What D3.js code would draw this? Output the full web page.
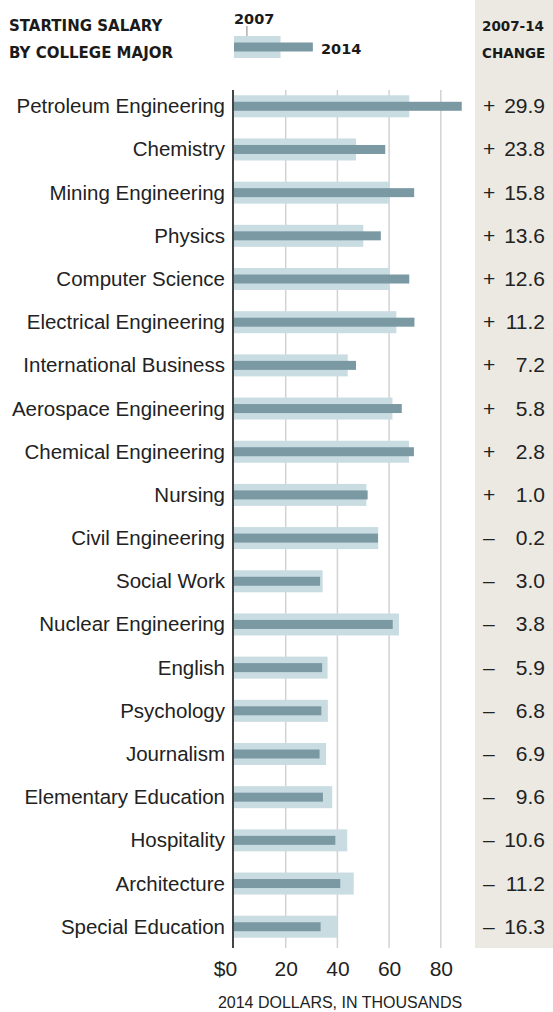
<!DOCTYPE html>
<html>
<head>
<meta charset="utf-8">
<script src="https://cdn.jsdelivr.net/npm/d3@7"></script>
<style>
  body { margin: 0; background: #fff; }
  svg { display: block; }
  .label { font-family: "Liberation Sans", Arial, sans-serif; fill: #222; }
  .head { font-family: "DejaVu Sans", sans-serif; font-weight: bold; fill: #1a1a1a; }
</style>
</head>
<body>
<script>
const majors = ["Petroleum Engineering", "Chemistry", "Mining Engineering", "Physics",
  "Computer Science", "Electrical Engineering", "International Business",
  "Aerospace Engineering", "Chemical Engineering", "Nursing", "Civil Engineering",
  "Social Work", "Nuclear Engineering", "English", "Psychology", "Journalism",
  "Elementary Education", "Hospitality", "Architecture", "Special Education"];

// thousands of 2014 dollars
const salary2007 = [67.8, 47.2, 60.2, 50.0, 60.2, 62.8, 44.0, 61.3, 67.7, 51.2,
  55.8, 34.3, 63.8, 36.2, 36.3, 35.6, 38.0, 43.8, 46.3, 40.0];
const salary2014 = [88.1, 58.5, 69.7, 56.8, 67.8, 69.8, 47.2, 64.9, 69.6, 51.7,
  55.7, 33.3, 61.4, 34.1, 33.8, 33.1, 34.4, 39.2, 41.1, 33.5];
const change = [29.9, 23.8, 15.8, 13.6, 12.6, 11.2, 7.2, 5.8, 2.8, 1.0,
  -0.2, -3.0, -3.8, -5.9, -6.8, -6.9, -9.6, -10.6, -11.2, -16.3];

const xTicks = [0, 20, 40, 60, 80];
const tickLabels = ["$0", "20", "40", "60", "80"];
const legendValues = { y2007: 18, y2014: 30.5, pointer: 5 };

const width = 553, height = 1012;

const svg = d3.select("body")
  .append("svg")
  .attr("width", width)
  .attr("height", height);

const x = d3.scaleLinear().domain([0, 80]).range([234, 440.8]);
const y = d3.scaleBand().domain(majors).range([84.7, 948.3]);

const lightH = 22, darkH = 9;

// change column background
svg.append("rect")
  .attr("x", 475).attr("y", 0)
  .attr("width", width - 475).attr("height", 948)
  .attr("fill", "#ebe9e2");

// gridlines
svg.append("g")
  .selectAll("line")
  .data(xTicks.slice(1))
  .enter().append("line")
  .attr("x1", d => x(d)).attr("x2", d => x(d))
  .attr("y1", 90).attr("y2", 948)
  .attr("stroke", "#d2d2d2")
  .attr("stroke-width", 1.5);

const rows = majors.map((m, i) => ({ major: m, v07: salary2007[i], v14: salary2014[i], ch: change[i] }));

// 2007 bars (light, behind)
svg.append("g")
  .selectAll("rect")
  .data(rows)
  .enter().append("rect")
  .attr("x", x(0))
  .attr("y", d => y(d.major) + y.bandwidth() / 2 - lightH / 2)
  .attr("width", d => x(d.v07) - x(0))
  .attr("height", lightH)
  .attr("fill", "#c8dce2");

// 2014 bars (dark)
svg.append("g")
  .selectAll("rect")
  .data(rows)
  .enter().append("rect")
  .attr("x", x(0))
  .attr("y", d => y(d.major) + y.bandwidth() / 2 - darkH / 2)
  .attr("width", d => x(d.v14) - x(0))
  .attr("height", darkH)
  .attr("fill", "#7b99a3");

// zero line
svg.append("line")
  .attr("x1", x(0) - 1).attr("x2", x(0) - 1)
  .attr("y1", 90).attr("y2", 948)
  .attr("stroke", "#444")
  .attr("stroke-width", 2);

// category labels
svg.append("g")
  .selectAll("text")
  .data(rows)
  .enter().append("text")
  .attr("class", "label")
  .attr("x", 225)
  .attr("y", d => y(d.major) + y.bandwidth() / 2 + 7)
  .attr("text-anchor", "end")
  .style("font-size", "20.5px")
  .text(d => d.major);

// change column
const chg = svg.append("g");
chg.selectAll(".sign")
  .data(rows)
  .enter().append("text")
  .attr("class", "label sign")
  .attr("x", 483)
  .attr("y", d => y(d.major) + y.bandwidth() / 2 + 7)
  .style("font-size", "21px")
  .text(d => d.ch >= 0 ? "+" : "–");
chg.selectAll(".num")
  .data(rows)
  .enter().append("text")
  .attr("class", "label num")
  .attr("x", 545)
  .attr("y", d => y(d.major) + y.bandwidth() / 2 + 7)
  .attr("text-anchor", "end")
  .style("font-size", "21px")
  .text(d => d3.format(".1f")(Math.abs(d.ch)));

// x axis
const xAxis = svg.append("g")
  .attr("transform", "translate(0,948)")
  .call(d3.axisBottom(x).tickValues(xTicks).tickSize(0).tickPadding(13)
    .tickFormat((d, i) => tickLabels[i]));
xAxis.select(".domain").remove();
xAxis.selectAll("text")
  .attr("class", "label")
  .attr("fill", "#222")
  .style("font-size", "21px")
  .attr("dx", (d, i) => i === 0 ? -9 : 0);

svg.append("text")
  .attr("class", "label")
  .attr("x", 340).attr("y", 1008)
  .attr("text-anchor", "middle")
  .style("font-size", "16px")
  .text("2014 DOLLARS, IN THOUSANDS");

// headers
const head = svg.append("g");
head.append("text").attr("class", "head").attr("x", 9).attr("y", 31)
  .style("font-size", "15px").text("STARTING SALARY");
head.append("text").attr("class", "head").attr("x", 9).attr("y", 58)
  .style("font-size", "15px").text("BY COLLEGE MAJOR");
head.append("text").attr("class", "head").attr("x", 482).attr("y", 31)
  .style("font-size", "13.5px").text("2007-14");
head.append("text").attr("class", "head").attr("x", 482).attr("y", 58)
  .style("font-size", "13.5px").text("CHANGE");

// legend
const legend = svg.append("g");
legend.append("rect")
  .attr("x", x(0)).attr("y", 47 - lightH / 2)
  .attr("width", x(legendValues.y2007) - x(0)).attr("height", lightH)
  .attr("fill", "#c8dce2");
legend.append("rect")
  .attr("x", x(0)).attr("y", 47 - darkH / 2)
  .attr("width", x(legendValues.y2014) - x(0)).attr("height", darkH)
  .attr("fill", "#7b99a3");
legend.append("line")
  .attr("x1", x(legendValues.pointer)).attr("x2", x(legendValues.pointer))
  .attr("y1", 26).attr("y2", 36)
  .attr("stroke", "#888").attr("stroke-width", 1);
legend.append("text").attr("class", "head").attr("x", x(0)).attr("y", 24)
  .style("font-size", "14.5px").text("2007");
legend.append("text").attr("class", "head").attr("x", 321).attr("y", 54)
  .style("font-size", "14.5px").text("2014");
</script>
</body>
</html>
